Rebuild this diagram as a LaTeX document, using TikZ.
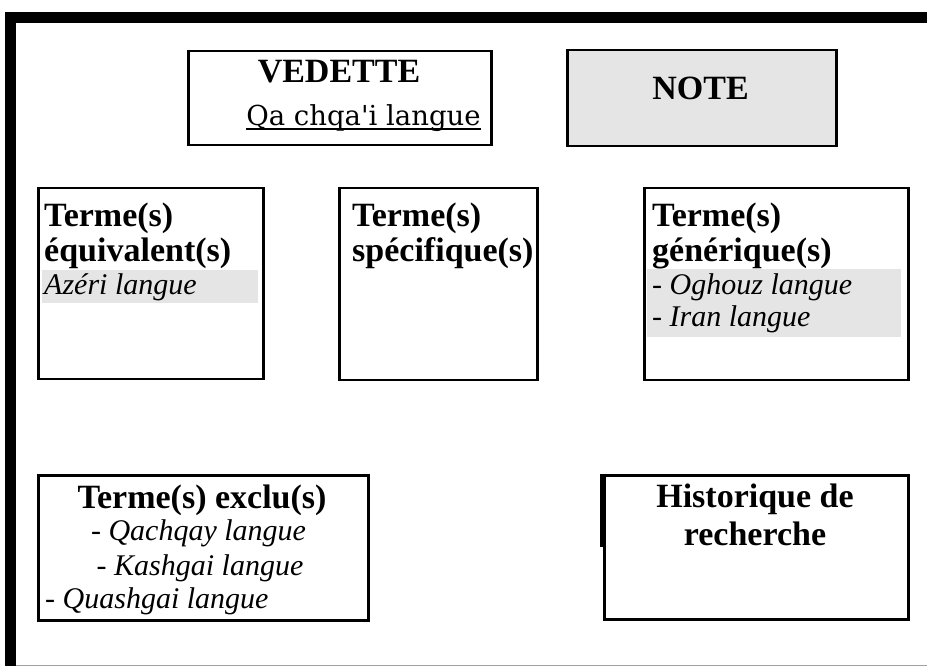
\documentclass[tikz,border=0pt]{standalone}
\usepackage{fontspec}
\setmainfont{Liberation Serif}
\newfontfamily\dejaserif{DejaVu Serif}
\usetikzlibrary{calc}
\definecolor{lightfill}{HTML}{E5E5E5}
\definecolor{framegray}{HTML}{A0A0A0}
\begin{document}
\begin{tikzpicture}[x=1pt,y=-1pt,
  box/.style={draw=black,line width=2.5pt,inner sep=0pt,anchor=north west},
  bt/.style={font=\fontsize{34}{36}\selectfont\bfseries,inner sep=0pt},
  it/.style={font=\fontsize{30}{32}\selectfont\itshape,inner sep=0pt},
  band/.style={fill=lightfill,draw=none}
]
\useasboundingbox (0,0) rectangle (927,668);
% outer frame
\fill[black] (5,12) rectangle (927,23);
\fill[black] (5,12) rectangle (16,666);
\draw[framegray,line width=1.5pt] (16,665.5) -- (927,665.5);

% boxes
\node[box,minimum width=303pt,minimum height=94pt] (vedette) at (187,50) {};
\node[box,fill=lightfill,minimum width=269pt,minimum height=96pt] (note) at (566,49) {};
\node[box,minimum width=225pt,minimum height=191pt] (equiv) at (37,187) {};
\node[box,minimum width=198pt,minimum height=192pt] (specif) at (338,187) {};
\node[box,minimum width=264pt,minimum height=192pt] (gener) at (643,187) {};
\node[box,minimum width=330pt,minimum height=145pt] (exclus) at (37,474) {};
\node[box,minimum width=304pt,minimum height=144pt] (histo) at (603,474) {};

% small border quirks
\draw[line width=3.5pt] ($(exclus.north east)+(-1,0)$) -- ($(exclus.north east)+(-1,109)$);
\draw[line width=3.5pt] ($(histo.north west)+(-1,0)$) -- ($(histo.north west)+(-1,73)$);

% gray bands
\fill[band] (42,270) rectangle (258,303);
\fill[band] (647,269) rectangle (901,337);

% VEDETTE
\node[bt,anchor=base] (vt) at (339,83) {VEDETTE};
\node[font=\fontsize{27.5}{30}\selectfont\dejaserif,inner sep=0pt,anchor=base] (qa) at (363.5,126) {Qa chqa\char"0027 i langue};
\draw[line width=2pt] ($(qa.base west)+(0,3.5)$) -- ($(qa.base east)+(0,3.5)$);

% NOTE
\node[bt,anchor=base] (nt) at (700.5,100) {NOTE};

% equivalent
\node[bt,anchor=base west] (eq1) at (44,227) {Terme(s)};
\node[bt,anchor=base west] (eq2) at (44,262) {équivalent(s)};
\node[it,anchor=base west] (eq3) at (44,295) {Azéri langue};

% specifique
\node[bt,anchor=base west] (sp1) at (352,227) {Terme(s)};
\node[bt,anchor=base west] (sp2) at (352,262) {spécifique(s)};

% generique
\node[bt,anchor=base west] (ge1) at (652,227) {Terme(s)};
\node[bt,anchor=base west] (ge2) at (652,262) {générique(s)};
\node[it,anchor=base west] (ge3) at (652,295) {- Oghouz langue};
\node[it,anchor=base west] (ge4) at (652,327) {- Iran langue};

% exclus
\node[bt,anchor=base] (ex1) at (202,508) {Terme(s) exclu(s)};
\node[it,anchor=base] (ex2) at (198.5,540) {- Qachqay langue};
\node[it,anchor=base] (ex3) at (200,575) {- Kashgai langue};
\node[it,anchor=base west] (ex4) at (45,608) {- Quashgai langue};

% historique
\node[bt,anchor=base] (hi1) at (755,507) {Historique de};
\node[bt,anchor=base] (hi2) at (755,545) {recherche};
\end{tikzpicture}
\end{document}
